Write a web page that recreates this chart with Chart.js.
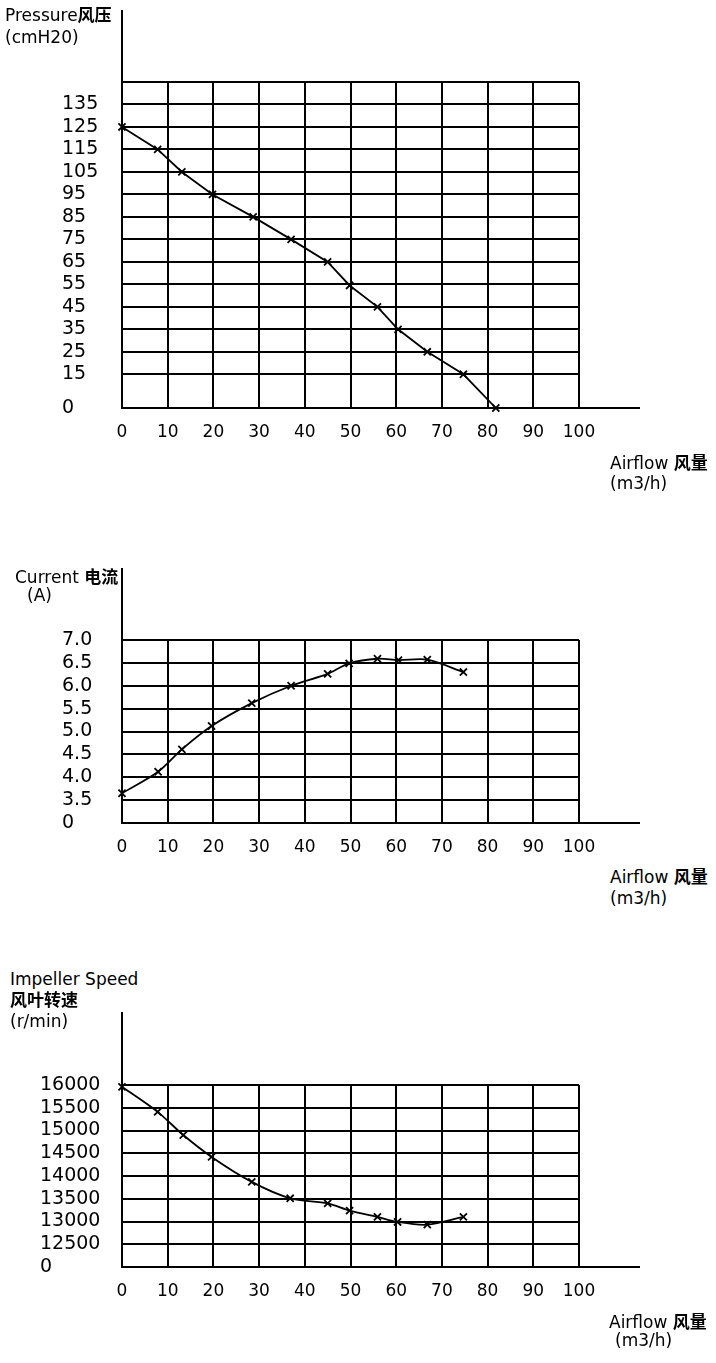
<!DOCTYPE html>
<html>
<head>
<meta charset="utf-8">
<script src="https://cdn.jsdelivr.net/npm/chart.js@4.4.1/dist/chart.umd.min.js"></script>
<style>
  body { margin: 0; background: #fff; width: 716px; height: 1363px; position: relative; overflow: hidden; }
  canvas { position: absolute; left: 0; }
  .lbl { position: absolute; font: 17px "DejaVu Sans", "Noto Sans CJK SC", sans-serif; line-height: 20px; color: #000; white-space: nowrap; }
  .cn { font-weight: bold; font-family: "Noto Sans CJK SC", sans-serif; }
</style>
</head>
<body>
<canvas id="pressureChart" width="716" height="450" style="top:0px"></canvas>
<canvas id="currentChart" width="716" height="320" style="top:540px"></canvas>
<canvas id="speedChart" width="716" height="320" style="top:990px"></canvas>

<div class="lbl" style="left:5px;top:4px">Pressure<span class="cn">风压</span></div>
<div class="lbl" style="left:5px;top:27px">(cmH20)</div>
<div class="lbl" style="left:610px;top:452px">Airflow <span class="cn">风量</span></div>
<div class="lbl" style="left:610px;top:473px">(m3/h)</div>

<div class="lbl" style="left:15px;top:566px">Current <span class="cn">电流</span></div>
<div class="lbl" style="left:27px;top:585px">(A)</div>
<div class="lbl" style="left:610px;top:866px">Airflow <span class="cn">风量</span></div>
<div class="lbl" style="left:610px;top:888px">(m3/h)</div>

<div class="lbl" style="left:10px;top:969px">Impeller Speed</div>
<div class="lbl" style="left:10px;top:989px"><span class="cn">风叶转速</span></div>
<div class="lbl" style="left:10px;top:1011px">(r/min)</div>
<div class="lbl" style="left:609px;top:1311px">Airflow <span class="cn">风量</span></div>
<div class="lbl" style="left:615px;top:1330px">(m3/h)</div>

<script>
// eixo X comum (vazão, m3/h)
const airflowTicks = [0, 10, 20, 30, 40, 50, 60, 70, 80, 90, 100];

// Pressão
const pressureFlow = [0, 7.8, 13.1, 19.8, 28.7, 37.0, 45.0, 49.8, 55.9, 60.4, 66.8, 74.7, 81.8];
const pressure = [125, 115, 105, 95, 85, 75, 65, 54.5, 45, 35, 25, 15, 0];
const pressureTicks = [0, 15, 25, 35, 45, 55, 65, 75, 85, 95, 105, 115, 125, 135, 145];
const pressureLabels = ['0', '15', '25', '35', '45', '55', '65', '75', '85', '95', '105', '115', '125', '135', ''];

// Corrente
const currentFlow = [0, 7.9, 13.1, 19.6, 28.4, 37.0, 45.0, 49.7, 55.9, 60.5, 66.8, 74.7];
const current = [3.65, 4.12, 4.61, 5.12, 5.62, 6.0, 6.26, 6.49, 6.59, 6.56, 6.57, 6.30];
const currentTicks = [3, 3.5, 4, 4.5, 5, 5.5, 6, 6.5, 7];
const currentLabels = ['0', '3.5', '4.0', '4.5', '5.0', '5.5', '6.0', '6.5', '7.0'];

// Rotação do rotor
const speedFlow = [0, 7.8, 13.4, 19.6, 28.4, 36.8, 45.0, 49.8, 55.9, 60.3, 66.8, 74.7];
const speed = [15960, 15410, 14900, 14420, 13870, 13510, 13400, 13240, 13100, 12990, 12930, 13100];
const speedTicks = [12000, 12500, 13000, 13500, 14000, 14500, 15000, 15500, 16000];
const speedLabels = ['0', '12500', '13000', '13500', '14000', '14500', '15000', '15500', '16000'];

// prolonga os eixos além da grade (linha vertical para cima, horizontal para a direita)
const axisExtend = {
    id: 'axisExtend',
    afterDraw(chart, args, opts) {
        const { ctx, chartArea } = chart;
        ctx.save();
        ctx.strokeStyle = '#000';
        ctx.lineWidth = 2;
        ctx.beginPath();
        ctx.moveTo(chartArea.left, opts.top);
        ctx.lineTo(chartArea.left, chartArea.top);
        ctx.moveTo(chartArea.right, chartArea.bottom);
        ctx.lineTo(opts.right, chartArea.bottom);
        ctx.stroke();
        ctx.restore();
    }
};

function criarGrafico(id, xs, ys, yTicks, yLabels, cfg) {
    const ctx = document.getElementById(id).getContext('2d');
    return new Chart(ctx, {
        type: 'line',
        data: {
            datasets: [{
                data: xs.map((x, i) => ({ x, y: ys[i] })),
                borderColor: '#000',
                borderWidth: 1.8,
                tension: cfg.tension,
                pointStyle: 'crossRot',
                pointRadius: 5,
                pointBorderWidth: 1.8,
                pointBorderColor: '#000',
                clip: false
            }]
        },
        options: {
            responsive: false,
            animation: false,
            events: [],
            layout: { padding: { left: cfg.left, top: cfg.top, right: 137, bottom: 0 } },
            plugins: {
                legend: { display: false },
                tooltip: { enabled: false },
                axisExtend: { top: cfg.lineTop, right: 640 }
            },
            scales: {
                x: {
                    type: 'linear',
                    min: 0,
                    max: 100,
                    afterBuildTicks: s => { s.ticks = airflowTicks.map(v => ({ value: v })); },
                    afterFit: s => { s.height = cfg.xHeight; },
                    grid: { color: '#000', lineWidth: 2, drawTicks: false },
                    border: { color: '#000', width: 2 },
                    ticks: {
                        color: '#000',
                        padding: 14,
                        maxRotation: 0,
                        autoSkip: false,
                        font: { family: 'DejaVu Sans', size: 17 }
                    }
                },
                y: {
                    type: 'linear',
                    min: yTicks[0],
                    max: yTicks[yTicks.length - 1],
                    afterBuildTicks: s => { s.ticks = yTicks.map(v => ({ value: v })); },
                    afterFit: s => { s.width = 122 - cfg.left; },
                    grid: { color: '#000', lineWidth: 2, drawTicks: false },
                    border: { color: '#000', width: 2 },
                    ticks: {
                        color: '#000',
                        crossAlign: 'far',
                        autoSkip: false,
                        font: { family: 'DejaVu Sans', size: 19 },
                        callback: (v, i) => yLabels[i]
                    }
                }
            }
        },
        plugins: [axisExtend]
    });
}

criarGrafico('pressureChart', pressureFlow, pressure, pressureTicks, pressureLabels,
    { left: 62, top: 82, xHeight: 42, lineTop: 10, tension: 0 });
criarGrafico('currentChart', currentFlow, current, currentTicks, currentLabels,
    { left: 62, top: 100, xHeight: 37, lineTop: 28, tension: 0.3 });
criarGrafico('speedChart', speedFlow, speed, speedTicks, speedLabels,
    { left: 40, top: 95, xHeight: 43, lineTop: 22, tension: 0.3 });
</script>
</body>
</html>
